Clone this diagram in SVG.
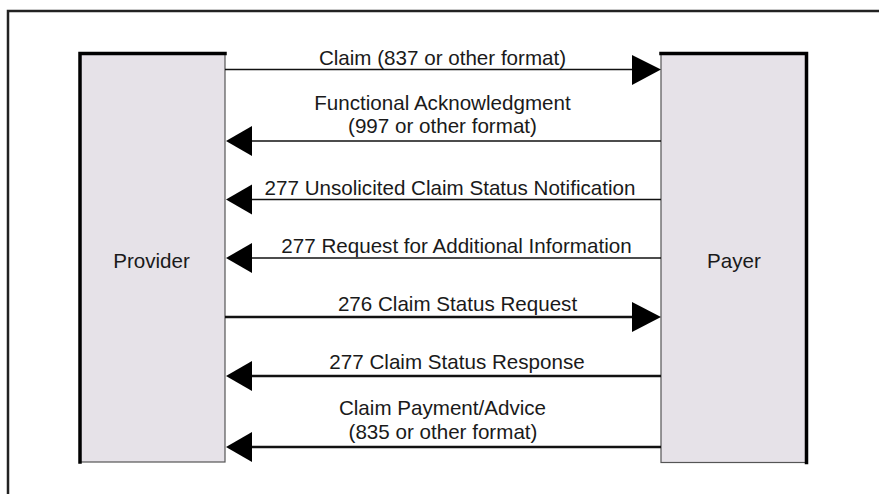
<svg xmlns="http://www.w3.org/2000/svg" width="879" height="494" viewBox="0 0 879 494">
<style>
.lbl{font-family:"Liberation Sans",Arial,Helvetica,sans-serif;font-size:20.6px;fill:#1a1a1a;text-anchor:middle}
.box{fill:#e6e2e8;stroke:#555;stroke-width:1.2}
.thick{stroke:#000;stroke-width:3.5;fill:none;stroke-linecap:square}
.thin{stroke:#111;stroke-width:1.6;fill:none}
.bold{stroke:#111;stroke-width:2.6;fill:none}
.head{fill:#000}
</style>
<rect width="879" height="494" fill="#fff"/>
<path d="M8,494 V11 H879" fill="none" stroke="#222" stroke-width="2.5"/>
<g id="provider">
<rect class="box" x="80" y="53.5" width="145" height="408.5"/>
<path class="thick" d="M80,462 V53.5 H225"/>
<text class="lbl" x="151.5" y="268">Provider</text>
</g>
<g id="payer">
<rect class="box" x="661" y="53.5" width="145.5" height="409"/>
<path class="thick" d="M661,53.5 H806.5 V462.5"/>
<text class="lbl" x="734" y="268">Payer</text>
</g>
<g id="connectors">
<line class="thin" x1="225" y1="69.5" x2="634" y2="69.5"/>
<polygon class="head" points="661,69.5 632,55 632,85"/>
<line class="thin" x1="252" y1="141" x2="661" y2="141"/>
<polygon class="head" points="226,141 252,126 252,156"/>
<line class="thin" x1="252" y1="199.5" x2="661" y2="199.5"/>
<polygon class="head" points="226,199.5 252,184.5 252,214.5"/>
<line class="thin" x1="252" y1="258" x2="661" y2="258"/>
<polygon class="head" points="226,258 252,243 252,273"/>
<line class="bold" x1="225" y1="317" x2="634" y2="317"/>
<polygon class="head" points="661,317 632,302 632,332"/>
<line class="bold" x1="252" y1="376" x2="661" y2="376"/>
<polygon class="head" points="226,376 252,361 252,391"/>
<line class="bold" x1="252" y1="447" x2="661" y2="447"/>
<polygon class="head" points="226,447 252,432 252,462"/>
</g>
<g id="labels">
<text class="lbl" x="442.5" y="65">Claim (837 or other format)</text>
<text class="lbl" x="442.5" y="110">Functional Acknowledgment</text>
<text class="lbl" x="442.5" y="133">(997 or other format)</text>
<text class="lbl" x="450" y="195">277 Unsolicited Claim Status Notification</text>
<text class="lbl" x="456.5" y="252.5">277 Request for Additional Information</text>
<text class="lbl" x="457.5" y="310.5">276 Claim Status Request</text>
<text class="lbl" x="457" y="369">277 Claim Status Response</text>
<text class="lbl" x="442.5" y="415">Claim Payment/Advice</text>
<text class="lbl" x="443" y="439">(835 or other format)</text>
</g>
</svg>
